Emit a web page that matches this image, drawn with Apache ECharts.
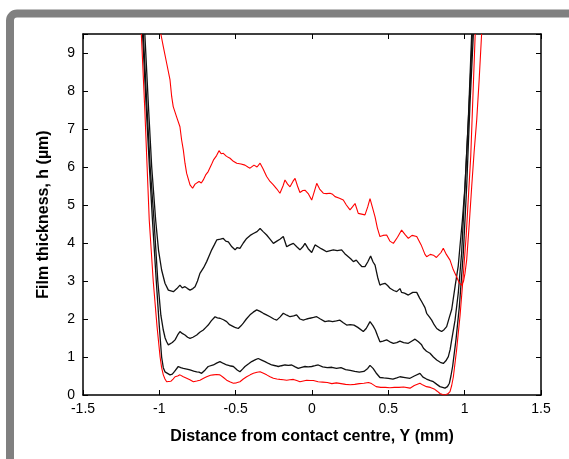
<!DOCTYPE html>
<html>
<head>
<meta charset="utf-8">
<script src="https://cdn.jsdelivr.net/npm/echarts@6/dist/echarts.min.js"></script>
<style>
  html, body { margin: 0; padding: 0; background: #fff; }
  #chart { width: 569px; height: 459px; }
</style>
</head>
<body>
<div id="chart"></div>
<script>
// Axis ticks
const xTicks = [-1.5, -1, -0.5, 0, 0.5, 1, 1.5];
const yTicks = [0, 1, 2, 3, 4, 5, 6, 7, 8, 9];

// Film thickness profiles h (µm) across the contact, Y (mm)
const redThick = [[-0.99,9.5],[-0.974,9.17],[-0.952,8.73],[-0.93,8.29],[-0.919,7.85],[-0.909,7.59],[-0.887,7.32],[-0.865,7.06],[-0.854,6.71],[-0.843,6.45],[-0.832,6.1],[-0.821,5.83],[-0.799,5.53],[-0.782,5.44],[-0.766,5.55],[-0.755,5.53],[-0.74,5.62],[-0.725,5.58],[-0.712,5.66],[-0.695,5.8],[-0.68,5.88],[-0.66,6.05],[-0.646,6.18],[-0.625,6.3],[-0.609,6.43],[-0.595,6.35],[-0.581,6.36],[-0.56,6.28],[-0.537,6.23],[-0.515,6.15],[-0.493,6.1],[-0.465,6.08],[-0.439,6.05],[-0.42,6.0],[-0.406,5.97],[-0.38,6.05],[-0.36,6.0],[-0.34,6.1],[-0.32,5.95],[-0.297,5.75],[-0.275,5.62],[-0.253,5.53],[-0.23,5.42],[-0.21,5.31],[-0.19,5.5],[-0.177,5.66],[-0.16,5.55],[-0.144,5.48],[-0.125,5.62],[-0.111,5.7],[-0.095,5.5],[-0.079,5.33],[-0.06,5.38],[-0.046,5.39],[-0.025,5.3],[-0.002,5.13],[0.015,5.35],[0.031,5.57],[0.05,5.42],[0.074,5.31],[0.095,5.3],[0.118,5.31],[0.135,5.28],[0.151,5.22],[0.18,5.18],[0.205,5.13],[0.225,5.0],[0.249,4.87],[0.265,4.95],[0.282,5.04],[0.303,4.78],[0.325,4.76],[0.347,4.74],[0.365,4.95],[0.38,5.17],[0.395,4.95],[0.413,4.69],[0.428,4.4],[0.445,4.17],[0.465,4.2],[0.489,4.21],[0.51,4.05],[0.533,3.99],[0.56,4.15],[0.587,4.34],[0.61,4.22],[0.631,4.12],[0.655,4.2],[0.686,4.17],[0.715,3.95],[0.74,3.7],[0.751,3.64],[0.775,3.7],[0.795,3.68],[0.815,3.62],[0.827,3.64],[0.845,3.75],[0.86,3.86],[0.88,3.7],[0.904,3.55],[0.925,3.3],[0.947,3.11],[0.965,2.95],[0.98,2.89],[0.993,3.0],[1.002,3.2],[1.013,3.55],[1.03,4.5],[1.046,5.48],[1.062,6.4],[1.079,7.24],[1.095,8.3],[1.111,9.5]];

const blackHigh = [[-1.095,9.5],[-1.07,7.5],[-1.05,6.0],[-1.024,4.6],[-1.005,3.8],[-0.985,3.29],[-0.963,2.94],[-0.941,2.76],[-0.93,2.72],[-0.908,2.72],[-0.885,2.8],[-0.865,2.89],[-0.85,2.82],[-0.832,2.85],[-0.815,2.8],[-0.799,2.76],[-0.78,2.8],[-0.766,2.85],[-0.75,3.0],[-0.734,3.2],[-0.71,3.35],[-0.69,3.51],[-0.675,3.65],[-0.657,3.82],[-0.64,3.95],[-0.624,4.08],[-0.6,4.1],[-0.581,4.12],[-0.565,4.05],[-0.548,4.03],[-0.525,3.9],[-0.504,3.82],[-0.49,3.88],[-0.472,3.86],[-0.45,4.0],[-0.428,4.12],[-0.405,4.2],[-0.384,4.25],[-0.36,4.3],[-0.34,4.38],[-0.32,4.3],[-0.297,4.21],[-0.275,4.1],[-0.253,3.99],[-0.23,4.05],[-0.21,4.1],[-0.188,4.17],[-0.166,3.9],[-0.145,3.95],[-0.122,3.99],[-0.1,3.9],[-0.079,3.82],[-0.06,3.9],[-0.046,3.99],[-0.025,3.85],[-0.002,3.75],[0.02,3.95],[0.04,3.9],[0.06,3.85],[0.075,3.82],[0.096,3.77],[0.12,3.8],[0.14,3.82],[0.165,3.8],[0.194,3.82],[0.215,3.72],[0.238,3.64],[0.255,3.58],[0.271,3.51],[0.29,3.55],[0.31,3.45],[0.326,3.38],[0.347,3.38],[0.365,3.5],[0.384,3.66],[0.4,3.5],[0.413,3.42],[0.43,3.1],[0.445,2.89],[0.46,2.92],[0.478,2.94],[0.495,2.88],[0.511,2.81],[0.535,2.75],[0.555,2.72],[0.576,2.8],[0.587,2.7],[0.606,2.68],[0.631,2.63],[0.66,2.7],[0.686,2.7],[0.705,2.55],[0.718,2.46],[0.74,2.3],[0.751,2.15],[0.77,2.05],[0.784,1.97],[0.8,1.85],[0.817,1.75],[0.835,1.7],[0.849,1.67],[0.865,1.72],[0.882,1.8],[0.9,2.05],[0.915,2.25],[0.937,2.85],[0.958,3.4],[0.969,3.9],[0.985,4.6],[1.002,5.48],[1.024,7.24],[1.046,9.5]];

const blackMid = [[-1.105,9.5],[-1.08,7.5],[-1.06,6.0],[-1.035,4.6],[-1.01,3.0],[-0.99,2.1],[-0.974,1.71],[-0.962,1.5],[-0.952,1.4],[-0.941,1.32],[-0.93,1.33],[-0.915,1.38],[-0.897,1.45],[-0.88,1.58],[-0.865,1.67],[-0.85,1.62],[-0.832,1.58],[-0.815,1.52],[-0.799,1.49],[-0.78,1.52],[-0.755,1.58],[-0.735,1.65],[-0.712,1.71],[-0.695,1.78],[-0.68,1.84],[-0.66,1.95],[-0.635,2.06],[-0.62,2.03],[-0.603,2.02],[-0.58,1.98],[-0.559,1.93],[-0.54,1.85],[-0.515,1.8],[-0.5,1.77],[-0.483,1.75],[-0.465,1.82],[-0.45,1.89],[-0.43,2.0],[-0.406,2.11],[-0.385,2.18],[-0.362,2.24],[-0.34,2.2],[-0.319,2.15],[-0.295,2.1],[-0.275,2.06],[-0.25,2.0],[-0.231,1.97],[-0.21,2.05],[-0.188,2.15],[-0.165,2.1],[-0.144,2.06],[-0.12,2.08],[-0.101,2.11],[-0.079,2.0],[-0.057,1.97],[-0.035,2.0],[-0.013,2.02],[0.01,2.04],[0.031,2.06],[0.055,2.0],[0.085,1.93],[0.11,1.95],[0.135,1.93],[0.16,1.95],[0.183,1.97],[0.205,1.9],[0.227,1.84],[0.25,1.85],[0.275,1.84],[0.3,1.78],[0.336,1.67],[0.355,1.75],[0.38,1.93],[0.4,1.82],[0.415,1.71],[0.43,1.55],[0.445,1.4],[0.465,1.42],[0.489,1.45],[0.51,1.4],[0.533,1.36],[0.555,1.38],[0.576,1.42],[0.6,1.38],[0.631,1.36],[0.655,1.42],[0.675,1.47],[0.697,1.4],[0.718,1.32],[0.73,1.23],[0.75,1.15],[0.773,1.1],[0.795,1.0],[0.817,0.92],[0.84,0.86],[0.86,0.83],[0.877,0.9],[0.893,1.01],[0.905,1.2],[0.915,1.45],[0.937,1.97],[0.958,2.68],[0.98,3.73],[1.002,5.48],[1.02,6.9],[1.035,8.11],[1.05,9.5]];

const blackLow = [[-1.11,9.5],[-1.085,7.5],[-1.065,6.0],[-1.045,4.6],[-1.02,3.0],[-1.0,1.8],[-0.985,1.0],[-0.974,0.72],[-0.963,0.61],[-0.95,0.56],[-0.93,0.53],[-0.915,0.55],[-0.9,0.62],[-0.876,0.75],[-0.86,0.72],[-0.843,0.7],[-0.82,0.68],[-0.799,0.66],[-0.775,0.63],[-0.755,0.61],[-0.74,0.6],[-0.723,0.57],[-0.7,0.66],[-0.68,0.75],[-0.646,0.79],[-0.625,0.84],[-0.603,0.88],[-0.58,0.83],[-0.559,0.79],[-0.54,0.77],[-0.515,0.75],[-0.49,0.66],[-0.472,0.61],[-0.455,0.68],[-0.439,0.75],[-0.415,0.82],[-0.395,0.88],[-0.37,0.93],[-0.352,0.96],[-0.33,0.92],[-0.308,0.88],[-0.285,0.83],[-0.264,0.79],[-0.24,0.77],[-0.221,0.75],[-0.2,0.77],[-0.177,0.79],[-0.155,0.78],[-0.133,0.79],[-0.11,0.74],[-0.09,0.7],[-0.068,0.73],[-0.046,0.75],[-0.025,0.74],[-0.002,0.75],[0.02,0.77],[0.041,0.79],[0.07,0.74],[0.1,0.72],[0.13,0.73],[0.16,0.7],[0.19,0.72],[0.22,0.67],[0.25,0.65],[0.28,0.62],[0.31,0.6],[0.34,0.62],[0.365,0.7],[0.38,0.78],[0.4,0.7],[0.42,0.58],[0.445,0.46],[0.47,0.45],[0.5,0.44],[0.53,0.42],[0.555,0.45],[0.576,0.48],[0.61,0.46],[0.642,0.44],[0.67,0.5],[0.707,0.57],[0.727,0.47],[0.75,0.42],[0.775,0.38],[0.795,0.35],[0.818,0.28],[0.838,0.22],[0.855,0.2],[0.871,0.18],[0.887,0.22],[0.9,0.31],[0.91,0.5],[0.921,0.75],[0.943,1.45],[0.965,2.32],[0.991,3.73],[1.013,5.48],[1.035,7.68],[1.057,9.5]];

const redThin = [[-1.118,9.5],[-1.095,7.5],[-1.08,6.0],[-1.066,4.6],[-1.04,3.0],[-1.015,1.8],[-0.995,1.0],[-0.985,0.72],[-0.974,0.53],[-0.963,0.42],[-0.952,0.35],[-0.94,0.32],[-0.925,0.36],[-0.91,0.42],[-0.897,0.48],[-0.88,0.5],[-0.865,0.53],[-0.843,0.48],[-0.821,0.44],[-0.8,0.4],[-0.777,0.35],[-0.755,0.37],[-0.734,0.39],[-0.71,0.44],[-0.69,0.48],[-0.665,0.52],[-0.646,0.53],[-0.625,0.54],[-0.603,0.53],[-0.58,0.46],[-0.559,0.39],[-0.535,0.34],[-0.515,0.31],[-0.495,0.32],[-0.472,0.35],[-0.45,0.42],[-0.428,0.48],[-0.405,0.53],[-0.384,0.57],[-0.36,0.6],[-0.34,0.61],[-0.318,0.57],[-0.297,0.53],[-0.275,0.48],[-0.253,0.44],[-0.23,0.42],[-0.21,0.41],[-0.188,0.4],[-0.166,0.39],[-0.145,0.4],[-0.122,0.41],[-0.1,0.38],[-0.079,0.35],[-0.057,0.37],[-0.035,0.39],[-0.013,0.38],[0.009,0.38],[0.04,0.35],[0.07,0.34],[0.1,0.33],[0.13,0.3],[0.16,0.32],[0.19,0.3],[0.22,0.28],[0.25,0.27],[0.28,0.28],[0.31,0.3],[0.34,0.31],[0.37,0.33],[0.39,0.3],[0.42,0.22],[0.45,0.2],[0.48,0.2],[0.51,0.19],[0.54,0.2],[0.57,0.2],[0.6,0.21],[0.642,0.18],[0.67,0.25],[0.707,0.31],[0.727,0.26],[0.75,0.22],[0.775,0.2],[0.8,0.16],[0.82,0.1],[0.838,0.04],[0.855,0.01],[0.871,0.0],[0.89,0.03],[0.904,0.09],[0.915,0.25],[0.926,0.48],[0.947,1.18],[0.97,2.1],[0.99,3.1],[1.01,4.2],[1.04,6.3],[1.069,9.5]];

const FONT = '"Liberation Sans", Arial, sans-serif';
const chart = echarts.init(document.getElementById('chart'), null, { renderer: 'canvas' });

const tickStyle = { inside: true, length: 5, lineStyle: { color: '#000', width: 1 } };
const lineStyleAxis = { show: true, onZero: false, lineStyle: { color: '#000', width: 1.5 } };

function lineSeries(data, color, width) {
  return {
    type: 'line', data: data, showSymbol: false, symbol: 'none', clip: true,
    lineStyle: { color: color, width: width }, animation: false, z: 3
  };
}

chart.setOption({
  backgroundColor: '#fff',
  animation: false,
  graphic: [{
    type: 'rect', z: 0, silent: true,
    shape: { x: 10, y: 13.5, width: 700, height: 700, r: 7 },
    style: { fill: 'none', stroke: '#808080', lineWidth: 8 }
  }],
  grid: { left: 83, right: 28, top: 34, bottom: 64, containLabel: false },
  xAxis: [{
    type: 'value', position: 'bottom', min: xTicks[0], max: xTicks[xTicks.length - 1], interval: 0.5,
    axisLine: lineStyleAxis, axisTick: tickStyle, splitLine: { show: false },
    axisLabel: { color: '#000', fontFamily: FONT, fontSize: 14, margin: 7 },
    name: 'Distance from contact centre, Y (mm)', nameLocation: 'middle', nameGap: 34,
    nameTextStyle: { color: '#000', fontFamily: FONT, fontSize: 16, fontWeight: 'bold' }
  }, {
    type: 'value', position: 'top', min: xTicks[0], max: xTicks[xTicks.length - 1], interval: 0.5,
    axisLine: lineStyleAxis, axisTick: tickStyle, splitLine: { show: false }, axisLabel: { show: false }
  }],
  yAxis: [{
    type: 'value', position: 'left', min: yTicks[0], max: 9.5, interval: 1,
    axisLine: lineStyleAxis, axisTick: tickStyle, splitLine: { show: false },
    axisLabel: { color: '#000', fontFamily: FONT, fontSize: 14, margin: 8,
      formatter: v => (yTicks.indexOf(v) >= 0 ? String(v) : '') },
    name: 'Film thickness, h (µm)', nameLocation: 'middle', nameGap: 31, nameRotate: 90,
    nameTextStyle: { color: '#000', fontFamily: FONT, fontSize: 16, fontWeight: 'bold' }
  }, {
    type: 'value', position: 'right', min: yTicks[0], max: 9.5, interval: 1,
    axisLine: lineStyleAxis, axisTick: tickStyle, splitLine: { show: false }, axisLabel: { show: false }
  }],
  series: [
    lineSeries(blackHigh, '#111', 1.3),
    lineSeries(blackMid, '#111', 1.3),
    lineSeries(blackLow, '#111', 1.3),
    lineSeries(redThin, '#ff0000', 1.1),
    lineSeries(redThick, '#ff0000', 1.1)
  ]
});
</script>
</body>
</html>
